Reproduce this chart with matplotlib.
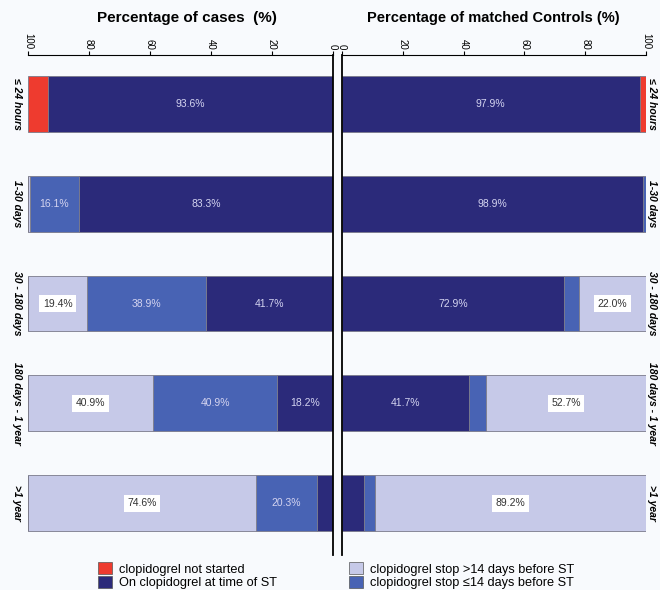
import matplotlib
matplotlib.use("Agg")
import matplotlib.pyplot as plt
from matplotlib.patches import Patch

plt.rcParams['font.family'] = ['Liberation Sans', 'DejaVu Sans']

categories = ["\u2264 24 hours", "1-30 days", "30 - 180 days", "180 days - 1 year", ">1 year"]

# cases (left panel)
cases_on = [93.6, 83.3, 41.7, 18.2, 5.1]
cases_stop_le14 = [0, 16.1, 38.9, 40.9, 20.3]
cases_stop_gt14 = [0, 0.6, 19.4, 40.9, 74.6]
cases_not_started = [6.4, 0, 0, 0, 0]

# matched controls (right panel)
ctrl_on = [97.9, 98.9, 72.9, 41.7, 7.2]
ctrl_stop_le14 = [0, 1.1, 5.1, 5.6, 3.6]
ctrl_stop_gt14 = [0, 0, 22.0, 52.7, 89.2]
ctrl_not_started = [2.1, 0, 0, 0, 0]

series_names = ["On clopidogrel at time of ST", "clopidogrel stop \u226414 days before ST",
                "clopidogrel stop >14 days before ST", "clopidogrel not started"]
colors = ["#2b2a7a", "#4863b4", "#c6c9e8", "#ee3b2f"]
bg = "#f8fafd"

fig = plt.figure(figsize=(6.6, 5.9), dpi=100, facecolor=bg)
axl = fig.add_axes([28/660, 1-555/590, 305/660, 500/590], facecolor=bg)
axr = fig.add_axes([342/660, 1-555/590, 304/660, 500/590], facecolor=bg)

ypos = list(range(len(categories)))


def draw_panel(ax, series):
    left = [0] * len(categories)
    for vals, col in zip(series, colors):
        ax.barh(ypos, vals, left=left, height=0.56, color=col,
                edgecolor="#7a7a8a", linewidth=0.6)
        for i, v in enumerate(vals):
            if v >= 10:
                x = left[i] + v / 2
                if col == colors[2]:
                    ax.text(x, i, "{:.1f}%".format(v), ha="center", va="center",
                            fontsize=7.5, color="#333333",
                            bbox=dict(facecolor="white", edgecolor="none", pad=2.5))
                else:
                    ax.text(x, i, "{:.1f}%".format(v), ha="center", va="center",
                            fontsize=7.5, color="#d4d4f0")
        left = [a + b for a, b in zip(left, vals)]
    ax.set_ylim(4.52, -0.49)
    ax.set_xticks([0, 20, 40, 60, 80, 100])
    ax.xaxis.tick_top()
    ax.tick_params(axis="x", labelsize=7, rotation=270, length=3, pad=1)
    ax.set_yticks([])
    ax.spines["bottom"].set_visible(False)


draw_panel(axl, [cases_on, cases_stop_le14, cases_stop_gt14, cases_not_started])
axl.set_xlim(100, 0)
axl.spines["left"].set_visible(False)
axl.spines["right"].set_linewidth(1.3)

draw_panel(axr, [ctrl_on, ctrl_stop_le14, ctrl_stop_gt14, ctrl_not_started])
axr.set_xlim(0, 100)
axr.spines["right"].set_visible(False)
axr.spines["left"].set_linewidth(1.3)

for ax in (axl, axr):
    for lab in ax.get_xticklabels():
        lab.set_va("bottom")

for i, cat in enumerate(categories):
    axl.text(-0.035, i, cat, transform=axl.get_yaxis_transform(), rotation=270,
             ha="center", va="center", fontsize=7.5, fontweight="bold", fontstyle="italic")
    axr.text(1.02, i, cat, transform=axr.get_yaxis_transform(), rotation=270,
             ha="center", va="center", fontsize=7.5, fontweight="bold", fontstyle="italic")

fig.text(187/660, 1-18/590, "Percentage of cases  (%)", ha="center", va="center",
         fontsize=11, fontweight="bold")
fig.text(493/660, 1-18/590, "Percentage of matched Controls (%)", ha="center", va="center",
         fontsize=10.5, fontweight="bold")

h1 = [Patch(facecolor=colors[3], edgecolor="#555555", linewidth=0.5, label=series_names[3]),
      Patch(facecolor=colors[0], edgecolor="#555555", linewidth=0.5, label=series_names[0])]
h2 = [Patch(facecolor=colors[2], edgecolor="#555555", linewidth=0.5, label=series_names[2]),
      Patch(facecolor=colors[1], edgecolor="#555555", linewidth=0.5, label=series_names[1])]
fig.legend(handles=h1, loc="upper left", bbox_to_anchor=(92/660, 1-556/590), frameon=False,
           fontsize=9.2, handlelength=1.05, handleheight=1.05, labelspacing=0.02,
           handletextpad=0.6, borderpad=0)
fig.legend(handles=h2, loc="upper left", bbox_to_anchor=(343/660, 1-556/590), frameon=False,
           fontsize=9.2, handlelength=1.05, handleheight=1.05, labelspacing=0.02,
           handletextpad=0.6, borderpad=0)

fig.savefig("out.png", dpi=100, facecolor=bg)
